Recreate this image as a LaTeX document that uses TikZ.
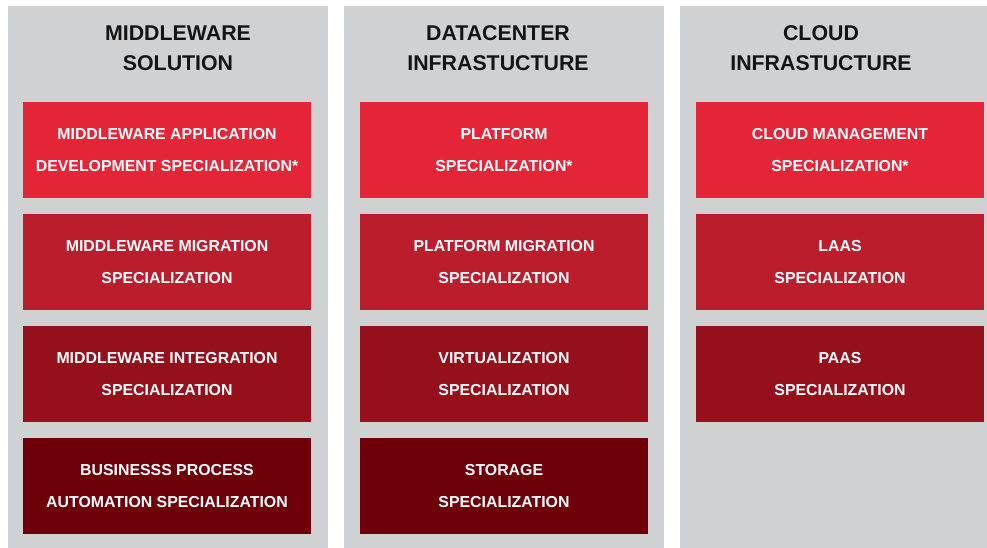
\documentclass[tikz,border=0pt]{standalone}
\usepackage{fontspec}
\setmainfont{Liberation Sans}
\definecolor{colbg}{HTML}{D0D1D3}
\definecolor{redA}{HTML}{E32537}
\definecolor{redB}{HTML}{BC1D2D}
\definecolor{redC}{HTML}{96101C}
\definecolor{redD}{HTML}{6E0009}
\definecolor{titletxt}{HTML}{141414}
\begin{document}
\begin{tikzpicture}[x=0.75pt,y=-0.75pt,
  spec/.style={minimum width=216pt,minimum height=72pt,inner sep=0pt,text=white,
    align=center,font=\fontsize{11.9}{24.4}\selectfont\bfseries},
  head/.style={text=titletxt,align=center,inner sep=0pt,
    font=\fontsize{16}{22.4}\selectfont\bfseries}]

\useasboundingbox[fill=white] (0,0) rectangle (987,548);

\fill[colbg] (8,6) rectangle (328,548);
\fill[colbg] (344,6) rectangle (664,548);
\fill[colbg] (680,6) rectangle (987,548);

\node[head] (mws) at (178,48.5) {MIDDLEWARE\\SOLUTION};
\node[head] (dci) at (498,48.5) {DATACENTER\\INFRASTUCTURE};
\node[head] (cli) at (821,48.5) {CLOUD\\INFRASTUCTURE};

\node[spec,fill=redA] (mw1) at (167,150) {MIDDLEWARE APPLICATION\\DEVELOPMENT SPECIALIZATION*};
\node[spec,fill=redB] (mw2) at (167,262) {MIDDLEWARE MIGRATION\\SPECIALIZATION};
\node[spec,fill=redC] (mw3) at (167,374) {MIDDLEWARE INTEGRATION\\SPECIALIZATION};
\node[spec,fill=redD] (mw4) at (167,486) {BUSINESSS PROCESS\\AUTOMATION SPECIALIZATION};

\node[spec,fill=redA] (dc1) at (504,150) {PLATFORM\\SPECIALIZATION*};
\node[spec,fill=redB] (dc2) at (504,262) {PLATFORM MIGRATION\\SPECIALIZATION};
\node[spec,fill=redC] (dc3) at (504,374) {VIRTUALIZATION\\SPECIALIZATION};
\node[spec,fill=redD] (dc4) at (504,486) {STORAGE\\SPECIALIZATION};

\node[spec,fill=redA] (cl1) at (840,150) {CLOUD MANAGEMENT\\SPECIALIZATION*};
\node[spec,fill=redB] (cl2) at (840,262) {LAAS\\SPECIALIZATION};
\node[spec,fill=redC] (cl3) at (840,374) {PAAS\\SPECIALIZATION};

\end{tikzpicture}
\end{document}
